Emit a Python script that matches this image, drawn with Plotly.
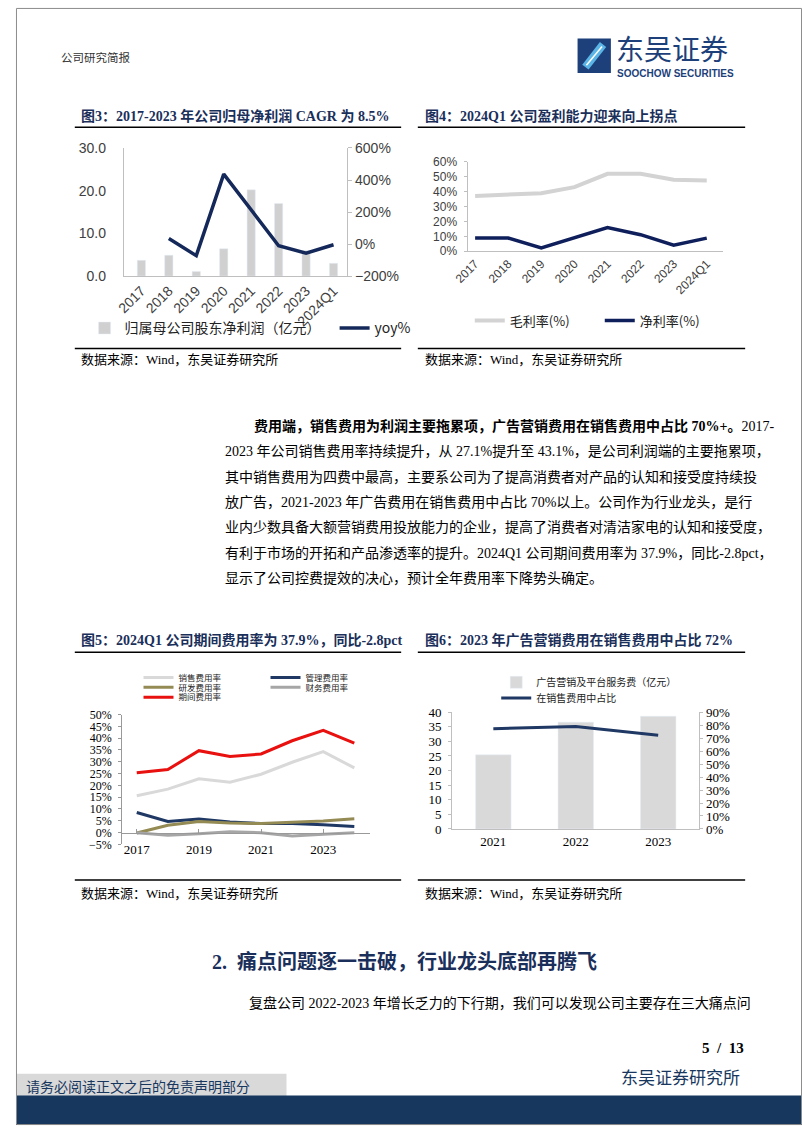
import plotly.graph_objects as go

W, H = 802, 1133
def X(px): return px / W
def Y(py): return 1 - py / H

# ---------------- data ----------------
years8 = ["2017", "2018", "2019", "2020", "2021", "2022", "2023", "2024Q1"]
net_profit = [3.7, 4.9, 1.1, 6.4, 20.2, 17.0, 6.0, 3.0]          # 亿元
net_profit_yoy = [None, 35, -72, 437, 215, -10, -57, -4]         # %

gross_margin = [37.1, 38.2, 38.9, 43.0, 51.9, 51.9, 47.9, 47.5]  # %
net_margin = [8.8, 8.8, 2.2, 9.3, 15.9, 11.1, 4.0, 8.8]          # %

exp_years = ["2017", "2018", "2019", "2020", "2021", "2022", "2023", "2024"]
exp_ticks = ["2017", "2019", "2021", "2023"]
sales_rate = [15.6, 18.4, 22.8, 21.3, 24.7, 29.8, 34.3, 27.4]
admin_rate = [8.5, 4.7, 5.7, 4.5, 3.8, 3.8, 3.3, 2.6]
rd_rate = [-0.2, 3.1, 4.7, 4.0, 3.8, 4.3, 4.9, 5.8]
fin_rate = [-0.1, -1.2, -0.5, 0.3, -0.1, -1.5, -0.7, -0.1]
period_rate = [25.3, 26.7, 34.7, 32.2, 33.3, 38.9, 43.3, 37.9]

years3 = ["2021", "2022", "2023"]
ad_fee = [25.4, 36.6, 38.6]        # 亿元
ad_share = [77.3, 78.9, 72.3]      # %

# ---------------- styles ----------------
SERIF = "Liberation Serif, Noto Sans CJK SC, serif"
SANS = "Liberation Sans, Noto Sans CJK SC, sans-serif"
CJK = "Noto Sans CJK SC, sans-serif"
NAVY = "#14285a"
TITLE = "#1a2f5a"
AXIS = "#bfbfbf"

fig = go.Figure()

# ---- Chart 3 ----
fig.add_trace(go.Bar(x=years8, y=net_profit, name="归属母公司股东净利润（亿元）",
                     marker_color="#d0d0d0", width=0.3, xaxis="x", yaxis="y",
                     legend="legend"))
fig.add_trace(go.Scatter(x=years8, y=net_profit_yoy, name="yoy%", mode="lines",
                         line=dict(color=NAVY, width=3.5), xaxis="x", yaxis="y2",
                         legend="legend"))
# ---- Chart 4 ----
fig.add_trace(go.Scatter(x=years8, y=gross_margin, name="毛利率(%)", mode="lines",
                         line=dict(color="#d3d3d3", width=4), xaxis="x2", yaxis="y3",
                         legend="legend2"))
fig.add_trace(go.Scatter(x=years8, y=net_margin, name="净利率(%)", mode="lines",
                         line=dict(color="#0e1f5b", width=3.5), xaxis="x2", yaxis="y3",
                         legend="legend2"))
# ---- Chart 5 ----
fig.add_trace(go.Scatter(x=exp_years, y=sales_rate, name="销售费用率", mode="lines",
                         line=dict(color="#d9d9d9", width=3), xaxis="x3", yaxis="y4",
                         legend="legend3"))
fig.add_trace(go.Scatter(x=exp_years, y=admin_rate, name="管理费用率", mode="lines",
                         line=dict(color="#1f3864", width=3), xaxis="x3", yaxis="y4",
                         legend="legend3"))
fig.add_trace(go.Scatter(x=exp_years, y=rd_rate, name="研发费用率", mode="lines",
                         line=dict(color="#948a54", width=3), xaxis="x3", yaxis="y4",
                         legend="legend5"))
fig.add_trace(go.Scatter(x=exp_years, y=fin_rate, name="财务费用率", mode="lines",
                         line=dict(color="#a6a6a6", width=3), xaxis="x3", yaxis="y4",
                         legend="legend5"))
fig.add_trace(go.Scatter(x=exp_years, y=period_rate, name="期间费用率", mode="lines",
                         line=dict(color="#e8110f", width=3), xaxis="x3", yaxis="y4",
                         legend="legend6"))
# ---- Chart 6 ----
fig.add_trace(go.Bar(x=years3, y=ad_fee, name="广告营销及平台服务费（亿元）",
                     marker_color="#d9d9d9", width=0.43, xaxis="x4", yaxis="y5",
                     legend="legend4"))
fig.add_trace(go.Scatter(x=years3, y=ad_share, name="在销售费用中占比", mode="lines",
                         line=dict(color="#1f3864", width=3), xaxis="x4", yaxis="y6",
                         legend="legend7"))

def leg(x, y, size, family=CJK, orient="h", entry=None):
    d = dict(x=X(x), y=Y(y), xref="paper", yref="paper", xanchor="left", yanchor="middle",
             orientation=orient, bgcolor="rgba(0,0,0,0)", borderwidth=0,
             font=dict(family=family, size=size, color="#222"), tracegroupgap=0)
    if entry:
        d["entrywidth"] = entry
        d["entrywidthmode"] = "pixels"
    return d

tickfont_sans14 = dict(family=SANS, size=14, color="#404040")
tickfont_sans12 = dict(family=SANS, size=12, color="#404040")
tickfont_serif = dict(family=SERIF, size=13, color="#000")
tickfont_serif12 = dict(family=SERIF, size=12, color="#000")

fig.update_layout(
    width=W, height=H, margin=dict(l=0, r=0, t=0, b=0),
    paper_bgcolor="white", plot_bgcolor="rgba(0,0,0,0)",
    showlegend=True, barmode="overlay",
    # chart 3
    xaxis=dict(domain=[X(110), X(338)], anchor="y", type="category", range=[-0.64, 7.5],
               tickangle=-45, tickfont=tickfont_sans14, showline=True, linecolor=AXIS,
               showgrid=False, ticks=""),
    yaxis=dict(domain=[Y(272), Y(142)], anchor="x", range=[0, 30], dtick=10,
               tickformat=".1f", tickfont=tickfont_sans14, showline=True, linecolor=AXIS,
               showgrid=False, zeroline=False, ticks="", ticklabelstandoff=14),
    yaxis2=dict(overlaying="y", anchor="x", side="right", range=[-200, 600], dtick=200,
                ticksuffix="%", tickfont=tickfont_sans14, showline=True, linecolor=AXIS,
                showgrid=False, zeroline=False, ticks="outside", ticklen=4, tickcolor=AXIS),
    # chart 4
    xaxis2=dict(domain=[X(461.7), X(721.7)], anchor="y3", type="category", range=[-0.2, 7.5],
                tickangle=-45, tickfont=tickfont_sans12, showline=True, linecolor=AXIS,
                showgrid=False, ticks=""),
    yaxis3=dict(domain=[Y(246.7), Y(156)], anchor="x2", range=[0, 60], dtick=10,
                ticksuffix="%", tickfont=tickfont_sans12, showline=True, linecolor=AXIS,
                showgrid=False, zeroline=False, ticks="outside", ticklen=3, tickcolor=AXIS,
                ticklabelstandoff=5),
    # chart 5
    xaxis3=dict(domain=[X(108.3), X(361.7)], anchor="free", position=Y(836.4),
                type="category", range=[-0.47, 7.52], tickvals=exp_ticks, ticktext=exp_ticks,
                tickfont=tickfont_serif, showline=True, linecolor="#999", showgrid=False,
                ticks="inside", ticklen=4, tickcolor="#999", ticklabelstandoff=5),
    yaxis4=dict(domain=[Y(848.3), Y(716.7)], anchor="x3", range=[-5, 50], dtick=5,
                ticksuffix="%", tickfont=tickfont_serif12, showline=True, linecolor="#999",
                showgrid=False, zeroline=False, ticks="outside", ticklen=3, tickcolor="#999",
                ticklabelstandoff=4),
    # chart 6
    xaxis4=dict(domain=[X(445), X(697.3)], anchor="y5", type="category", range=[-0.5, 2.5],
                tickfont=tickfont_serif, showline=True, linecolor=AXIS, showgrid=False,
                ticks=""),
    yaxis5=dict(domain=[Y(832.7), Y(714.3)], anchor="x4", range=[0, 40], dtick=5,
                tickfont=tickfont_serif, showline=True, linecolor=AXIS, showgrid=False,
                zeroline=False, ticks="outside", ticklen=3, tickcolor=AXIS,
                ticklabelstandoff=4),
    yaxis6=dict(overlaying="y5", anchor="x4", side="right", range=[0, 90], dtick=10,
                ticksuffix="%", tickfont=tickfont_serif, showline=True, linecolor=AXIS,
                showgrid=False, zeroline=False, ticks="outside", ticklen=3, tickcolor=AXIS),
    legend=leg(70, 325, 14, entry=205),
    legend2=leg(463, 317, 13, entry=85),
    legend3=leg(125, 679, 8.5, entry=82),
    legend5=leg(125, 689, 8.5, entry=82),
    legend6=leg(125, 699, 8.5),
    legend4=leg(490, 684, 10),
    legend7=leg(490, 700, 10),
)

# ---------------- page decoration ----------------
shapes = []
def hline(x0, x1, y, color="#000", w=1.5):
    shapes.append(dict(type="line", xref="paper", yref="paper", x0=X(x0), x1=X(x1),
                       y0=Y(y), y1=Y(y), line=dict(color=color, width=w)))
def rect(x0, y0, x1, y1, fill, line=None):
    shapes.append(dict(type="rect", xref="paper", yref="paper", x0=X(x0), x1=X(x1),
                       y0=Y(y1), y1=Y(y0), fillcolor=fill, layer="below",
                       line=dict(width=0) if line is None else line))

# page border
shapes.append(dict(type="rect", xref="paper", yref="paper", x0=0.0006, x1=0.9994,
                   y0=0.0004, y1=0.9996, line=dict(color="#8c8c8c", width=1)))
# chart title / source rules
hline(60, 393, 121); hline(410, 744, 121)
hline(60, 393, 345.5); hline(410, 744, 345.5)
hline(60, 393, 653.5); hline(410, 744, 653.5)
hline(60, 393, 884.5); hline(410, 744, 884.5)
# footer
rect(0, 1081, 276, 1104, "#d9d9d9")
rect(0, 1103, 802, 1133, "#17375e")
# logo icon
rect(573, 31, 607, 66, "#1d3f7a")
shapes.append(dict(type="line", xref="paper", yref="paper", x0=X(581), y0=Y(60),
                   x1=X(599), y1=Y(37), line=dict(color="#5ab4e5", width=8)))
shapes.append(dict(type="line", xref="paper", yref="paper", x0=X(582), y0=Y(58),
                   x1=X(598), y1=Y(39), line=dict(color="white", width=1.5)))

annotations = []
def txt(x, y, s, size, color="#000", family=SERIF, xanchor="left"):
    annotations.append(dict(x=X(x), y=Y(y), xref="paper", yref="paper", text=s,
                            showarrow=False, xanchor=xanchor, yanchor="middle",
                            font=dict(family=family, size=size, color=color)))

# header
txt(44, 50, "公司研究简报", 11.5, "#333", CJK)
txt(610, 41, "东吴证券", 28, "#1d3f7a", CJK)
txt(611, 66, "<b>SOOCHOW SECURITIES</b>", 10, "#1d3f7a", SANS)

# chart titles
txt(64, 110, "<b>图3：2017-2023 年公司归母净利润 CAGR 为 8.5%</b>", 14, TITLE)
txt(415, 110, "<b>图4：2024Q1 公司盈利能力迎来向上拐点</b>", 14, TITLE)
txt(64, 641, "<b>图5：2024Q1 公司期间费用率为 37.9%，同比-2.8pct</b>", 14, TITLE)
txt(415, 641, "<b>图6：2023 年广告营销费用在销售费用中占比 72%</b>", 14, TITLE)

# sources
for sx, sy in [(64, 357), (415, 357), (64, 898), (415, 898)]:
    txt(sx, sy, "数据来源：Wind，东吴证券研究所", 13)

# body paragraph
para = [
    "<b>费用端，销售费用为利润主要拖累项，广告营销费用在销售费用中占比 70%+。</b>2017-",
    "2023 年公司销售费用率持续提升，从 27.1%提升至 43.1%，是公司利润端的主要拖累项，",
    "其中销售费用为四费中最高，主要系公司为了提高消费者对产品的认知和接受度持续投",
    "放广告，2021-2023 年广告费用在销售费用中占比 70%以上。公司作为行业龙头，是行",
    "业内少数具备大额营销费用投放能力的企业，提高了消费者对清洁家电的认知和接受度，",
    "有利于市场的开拓和产品渗透率的提升。2024Q1 公司期间费用率为 37.9%，同比-2.8pct，",
    "显示了公司控费提效的决心，预计全年费用率下降势头确定。",
]
for i, line in enumerate(para):
    txt(241 if i == 0 else 211, 424 + i * 25.7, line, 14)

txt(198, 967, "<b>2.  痛点问题逐一击破，行业龙头底部再腾飞</b>", 20, TITLE)
txt(236, 1009, "复盘公司 2022-2023 年增长乏力的下行期，我们可以发现公司主要存在三大痛点问", 14)
txt(745, 1055, "<b>5  /  13</b>", 15, "#000", SERIF, "right")
txt(615, 1084, "东吴证券研究所", 17, "#17375e", CJK)
txt(8, 1093, "请务必阅读正文之后的免责声明部分", 14, "#17375e", CJK)

fig.update_layout(shapes=shapes, annotations=annotations)
fig.write_html("out.html")
